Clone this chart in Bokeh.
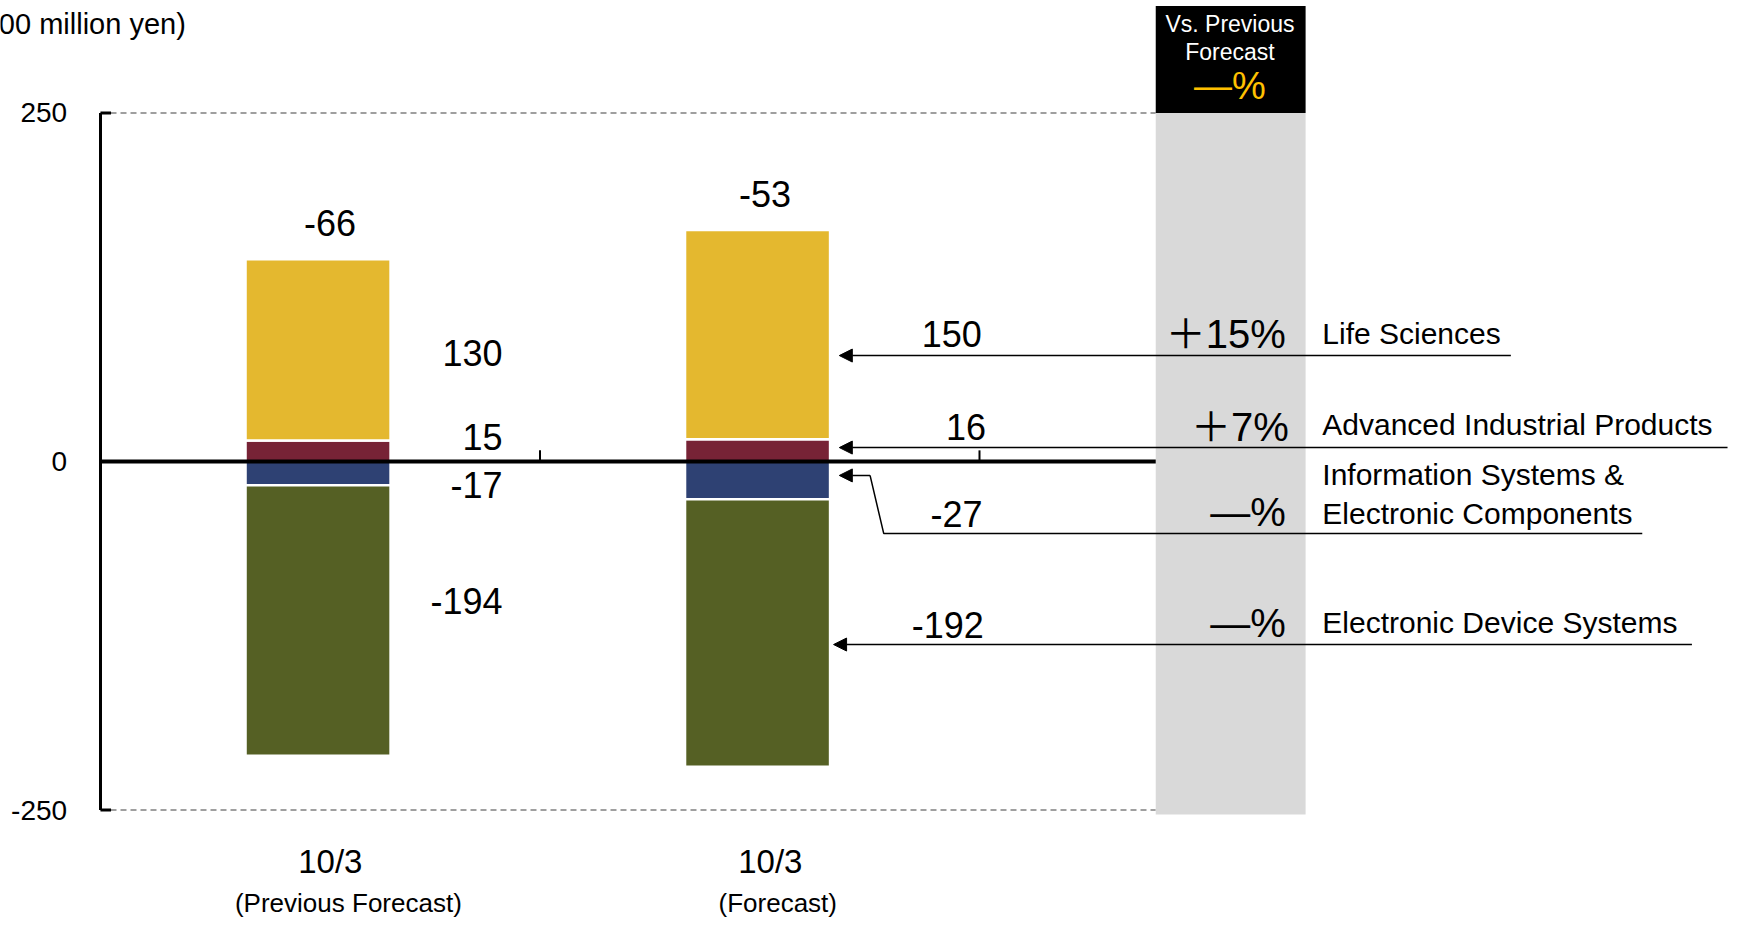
from bokeh.plotting import figure
from bokeh.models import Range1d, Arrow, NormalHead
from bokeh.embed import file_html
from bokeh.resources import INLINE
from bokeh.core.properties import value

FONT = "Liberation Sans"
FONT_PCT = "Liberation Sans, Noto Sans CJK JP"

# ---------------- data ----------------
categories_top = ["10/3", "10/3"]
categories_sub = ["(Previous Forecast)", "(Forecast)"]
segment_names = ["Life Sciences", "Advanced Industrial Products",
                 "Information Systems &\nElectronic Components", "Electronic Device Systems"]
life_sciences = [130, 150]
advanced_industrial = [15, 16]
info_systems = [-17, -27]
electronic_devices = [-194, -192]
totals = [-66, -53]
vs_previous = ["＋15%", "＋7%", "—%", "—%"]
header_pct = "—%"
y_ticks = [-250, 0, 250]
y_tick_labels = ["-250", "0", "250"]
unit_label = "(100 million yen)"

COL_LS = "#E4B82F"
COL_AIP = "#772336"
COL_ISEC = "#2E4173"
COL_EDS = "#556024"

# ---------------- layout ----------------
W, H = 1734, 917
PX_X = 439.5
AXIS_PX = 100.0
x_start = -AXIS_PX / PX_X
x_end = (W - AXIS_PX) / PX_X
y_top, y_bot = 330.7, -327.1
x_pos = [0.495, 1.495]
bar_w = 0.33
col_l, col_r = 2.401, 2.742

p = figure(width=W, height=H, output_backend="svg", toolbar_location=None,
           x_range=Range1d(x_start, x_end), y_range=Range1d(y_bot, y_top),
           x_axis_location=None, y_axis_location=None,
           min_border_left=0, min_border_right=0, min_border_top=0, min_border_bottom=0)
p.outline_line_color = None
p.grid.visible = False
p.background_fill_color = "white"
p.border_fill_color = "white"

# dashed reference lines at +/-250
p.segment(x0=[0, 0], x1=[col_l, col_l], y0=[y_ticks[0], y_ticks[2]], y1=[y_ticks[0], y_ticks[2]],
          line_color="#808080", line_width=1.5, line_dash="6 4")

# value axis (drawn in data space so the unit label can run to the page edge)
p.segment(x0=[0], x1=[0], y0=[y_ticks[0]], y1=[y_ticks[2]], line_color="black", line_width=3)
p.segment(x0=[0, 0], x1=[0.024, 0.024], y0=[y_ticks[0], y_ticks[2]], y1=[y_ticks[0], y_ticks[2]],
          line_color="black", line_width=3)

# grey comparison column and black header
p.quad(left=[col_l], right=[col_r], bottom=[-253.2], top=[y_ticks[2]],
       fill_color="#D9D9D9", line_color=None)
p.quad(left=[col_l], right=[col_r], bottom=[y_ticks[2]], top=[326.8],
       fill_color="black", line_color=None)

# stacked bars
aip_top = advanced_industrial
ls_top = [a + b for a, b in zip(advanced_industrial, life_sciences)]
isec_bot = info_systems
eds_bot = [a + b for a, b in zip(info_systems, electronic_devices)]

p.vbar(x=x_pos, width=bar_w, bottom=[0, 0], top=aip_top, fill_color=COL_AIP,
       line_color="white", line_width=2.5)
p.vbar(x=x_pos, width=bar_w, bottom=aip_top, top=ls_top, fill_color=COL_LS,
       line_color="white", line_width=2.5)
p.vbar(x=x_pos, width=bar_w, bottom=isec_bot, top=[0, 0], fill_color=COL_ISEC,
       line_color="white", line_width=2.5)
p.vbar(x=x_pos, width=bar_w, bottom=eds_bot, top=isec_bot, fill_color=COL_EDS,
       line_color="white", line_width=2.5)

# zero line + small category ticks
p.segment(x0=[0], x1=[col_l], y0=[0], y1=[0], line_color="black", line_width=4)
p.segment(x0=[1, 2], x1=[1, 2], y0=[0, 0], y1=[8, 8], line_color="black", line_width=2)


def txt(x, y, t, size, align="center", color="black", font=FONT):
    p.text(x=x, y=y, text=t, text_font=value(font), text_font_size=value(size),
           text_align=align, text_baseline="middle", text_color=color)


# y tick labels and unit label
txt([-0.076] * 3, y_ticks, y_tick_labels, "28px", align="right")
txt([-0.29], [313.5], [unit_label], "29px", align="left")

# totals above bars
txt([0.522, 1.512], [t + 26 for t in ls_top], [str(v) for v in totals], "36px")

# segment value labels
lab_y_prev = [77.5, 17.9, -17.2, -100]
lab_y_cur = [91.8, 25.1, -37.3, -117.6]
prev_vals = [life_sciences[0], advanced_industrial[0], info_systems[0], electronic_devices[0]]
cur_vals = [life_sciences[1], advanced_industrial[1], info_systems[1], electronic_devices[1]]
txt([0.915] * 4, lab_y_prev, [str(v) for v in prev_vals], "36px", align="right")
txt([2.005, 2.015, 2.007, 2.010], lab_y_cur, [str(v) for v in cur_vals], "36px", align="right")

# percentage column
txt([2.697, 2.704, 2.697, 2.697], [91.8, 25.1, -35.9, -115.5], vs_previous, "40px",
    align="right", font=FONT_PCT)

# segment names
name_lines = segment_names[2].split("\n")
txt([2.780] * 5, [91.8, 26.5, -9.3, -37.3, -115.5],
    [segment_names[0], segment_names[1], name_lines[0], name_lines[1], segment_names[3]],
    "30px", align="left")

# header texts
txt([2.570, 2.570], [313.5, 293.4], ["Vs. Previous", "Forecast"], "23px", color="white")
txt([2.570], [269.7], [header_pct], "38px", color="#FFC000")

# category labels
txt([0.523, 1.524], [-286.9, -286.9], categories_top, "33px")
txt([0.564, 1.541], [-317.0, -317.0], categories_sub, "26px")

# leader lines with arrows
head = dict(size=13, fill_color="black", line_color="black", line_width=1)
p.add_layout(Arrow(end=NormalHead(**head), x_start=3.209, y_start=76.0, x_end=1.681, y_end=76.0,
                   line_width=1.5, line_color="black"))
p.add_layout(Arrow(end=NormalHead(**head), x_start=3.702, y_start=10.0, x_end=1.681, y_end=10.0,
                   line_width=1.5, line_color="black"))
p.line(x=[3.508, 1.782, 1.751], y=[-51.6, -51.6, -10.0], line_color="black", line_width=1.5)
p.add_layout(Arrow(end=NormalHead(**head), x_start=1.751, y_start=-10.0, x_end=1.681, y_end=-10.0,
                   line_width=1.5, line_color="black"))
p.add_layout(Arrow(end=NormalHead(**head), x_start=3.621, y_start=-131.3, x_end=1.668, y_end=-131.3,
                   line_width=1.5, line_color="black"))

open("out.html", "w").write(file_html(p, INLINE))
